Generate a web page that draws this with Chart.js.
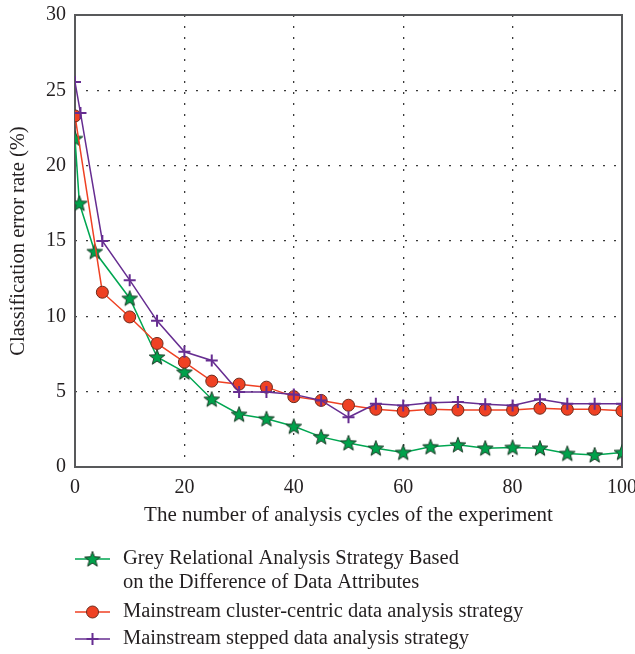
<!DOCTYPE html>
<html>
<head>
<meta charset="utf-8">
<script src="https://cdn.jsdelivr.net/npm/chart.js@4.4.1/dist/chart.umd.min.js"></script>
<style>
  html, body { margin: 0; padding: 0; background: #fff; }
  #wrap { width: 635px; height: 654px; }
</style>
</head>
<body>
<div id="wrap"><canvas id="chart" width="635" height="654"></canvas></div>
<script>
// series labels (legend)
const seriesNames = [
  ["Grey Relational Analysis Strategy Based", "on the Difference of Data Attributes"],
  ["Mainstream cluster-centric data analysis strategy"],
  ["Mainstream stepped data analysis strategy"]
];
// x positions (analysis cycles) for each series
const cyclesGrey = [0, 0.8, 3.6, 10, 15, 20, 25, 30, 35, 40, 45, 50, 55, 60, 65, 70, 75, 80, 85, 90, 95, 100];
const cyclesCluster = [0, 5, 10, 15, 20, 25, 30, 35, 40, 45, 50, 55, 60, 65, 70, 75, 80, 85, 90, 95, 100];
const cyclesStepped = [0, 1, 5, 10, 15, 20, 25, 30, 35, 40, 45, 50, 55, 60, 65, 70, 75, 80, 85, 90, 95, 100];
// classification error rate (%)
const greyRate = [21.8, 17.5, 14.3, 11.2, 7.3, 6.3, 4.5, 3.5, 3.2, 2.7, 2.0, 1.6, 1.25, 0.97, 1.34, 1.47, 1.25, 1.3, 1.25, 0.9, 0.8, 0.97];
const clusterRate = [23.3, 11.6, 9.96, 8.2, 6.96, 5.7, 5.5, 5.3, 4.67, 4.42, 4.1, 3.83, 3.7, 3.83, 3.78, 3.78, 3.78, 3.9, 3.83, 3.83, 3.73];
const steppedRate = [25.55, 23.5, 15.0, 12.4, 9.7, 7.65, 7.07, 4.98, 4.98, 4.82, 4.42, 3.3, 4.2, 4.09, 4.27, 4.32, 4.16, 4.09, 4.49, 4.2, 4.2, 4.2];
// tick labels
const xTicks = [0, 20, 40, 60, 80, 100];
const yTicks = [0, 5, 10, 15, 20, 25, 30];

const textColor = "#231f20";
const serif = "'Liberation Serif', 'DejaVu Serif', serif";

//filled star marker
function makeStar(size) {
  const c = document.createElement("canvas");
  c.width = size; c.height = size;
  const g = c.getContext("2d");
  const cx = size / 2, cy = size / 2 + 0.6;
  const outer = size / 2 - 0.8, inner = outer * 0.42;
  g.beginPath();
  for (let i = 0; i < 10; i++) {
    const r = i % 2 === 0 ? outer : inner;
    const a = -Math.PI / 2 + i * Math.PI / 5;
    const px = cx + r * Math.cos(a), py = cy + r * Math.sin(a);
    if (i === 0) g.moveTo(px, py); else g.lineTo(px, py);
  }
  g.closePath();
  g.fillStyle = "#00a14b";
  g.fill();
  g.lineWidth = 1;
  g.strokeStyle = "#1d3b28";
  g.stroke();
  return c;
}
const starImg = makeStar(18);

const toPoints = (xs, ys) => xs.map((x, i) => ({ x: x, y: ys[i] }));

const datasets = [
  {
    data: toPoints(cyclesGrey, greyRate),
    borderColor: "#00a651",
    borderWidth: 1.5,
    pointStyle: starImg,
    pointRadius: 8,
    order: 2,
  },
  {
    data: toPoints(cyclesCluster, clusterRate),
    borderColor: "#ef4123",
    borderWidth: 1.5,
    pointStyle: "circle",
    pointRadius: 6,
    pointBackgroundColor: "#ef4123",
    pointBorderColor: "#6b2a1c",
    pointBorderWidth: 1,
    order: 1,
  },
  {
    data: toPoints(cyclesStepped, steppedRate),
    borderColor: "#662d91",
    borderWidth: 1.5,
    pointStyle: "cross",
    pointRadius: 6,
    pointBorderColor: "#662d91",
    pointBorderWidth: 2,
    order: 0,
  },
];

//frame around the plot area
const framePlugin = {
  id: "frame",
  beforeDatasetsDraw(chart) {
    const { ctx, chartArea: a } = chart;
    ctx.save();
    ctx.strokeStyle = "#58595b";
    ctx.lineWidth = 2;
    ctx.strokeRect(a.left, a.top, a.right - a.left, a.bottom - a.top);
    ctx.restore();
  },
};

//legend below the axis title (line + marker + text)
const legendPlugin = {
  id: "customLegend",
  afterDraw(chart) {
    const { ctx } = chart;
    const lineX0 = 75, lineX1 = 110, textX = 123;
    const rowY = [559, 612, 639];
    const lineGap = 24;
    ctx.save();
    ctx.font = "20.5px " + serif;
    ctx.textBaseline = "middle";
    ctx.textAlign = "left";
    datasets.forEach((ds, i) => {
      const y = rowY[i];
      ctx.strokeStyle = ds.borderColor;
      ctx.lineWidth = 1.5;
      ctx.beginPath();
      ctx.moveTo(lineX0, y);
      ctx.lineTo(lineX1, y);
      ctx.stroke();
      ctx.fillStyle = ds.pointBackgroundColor || ds.borderColor;
      ctx.strokeStyle = ds.pointBorderColor || ds.borderColor;
      ctx.lineWidth = ds.pointBorderWidth || 1;
      Chart.helpers.drawPoint(ctx, {
        pointStyle: ds.pointStyle,
        radius: ds.pointRadius,
        rotation: 0,
        borderWidth: ds.pointBorderWidth || 1,
      }, (lineX0 + lineX1) / 2, y);
      ctx.fillStyle = textColor;
      seriesNames[i].forEach((t, k) => ctx.fillText(t, textX, y + k * lineGap));
    });
    ctx.restore();
  },
};

const dotted = [2, 9];

let myChart = new Chart(document.getElementById("chart"), {
  type: "line",
  data: { datasets: datasets },
  plugins: [framePlugin, legendPlugin],
  options: {
    responsive: false,
    animation: false,
    layout: { padding: { top: 15, right: 13, left: 0, bottom: 122 } },
    plugins: {
      legend: { display: false },
      tooltip: { enabled: false },
    },
    scales: {
      x: {
        type: "linear",
        min: 0,
        max: 100,
        afterBuildTicks: (s) => { s.ticks = xTicks.map(v => ({ value: v })); },
        afterFit: (s) => { s.height = 65; s.paddingLeft = 0; s.paddingRight = 0; },
        border: { display: false, dash: dotted },
        grid: {
          drawTicks: false,
          color: (c) => (c.tick.value === 0 || c.tick.value === 100) ? "rgba(0,0,0,0)" : "#3a3a3a",
          lineWidth: 1.3,
        },
        ticks: {
          color: textColor,
          font: { family: serif, size: 20 },
          padding: 9,
          maxRotation: 0,
        },
        title: {
          display: true,
          text: "The number of analysis cycles of the experiment",
          color: textColor,
          font: { family: serif, size: 21 },
          padding: { top: 4, bottom: 4 },
        },
      },
      y: {
        min: 0,
        max: 30,
        afterBuildTicks: (s) => { s.ticks = yTicks.map(v => ({ value: v })); },
        afterFit: (s) => { s.width = 75; s.paddingTop = 0; s.paddingBottom = 0; },
        border: { display: false, dash: dotted },
        grid: {
          drawTicks: false,
          color: (c) => (c.tick.value === 0 || c.tick.value === 30) ? "rgba(0,0,0,0)" : "#3a3a3a",
          lineWidth: 1.3,
        },
        ticks: {
          color: textColor,
          font: { family: serif, size: 20 },
          padding: 9,
        },
        title: {
          display: true,
          text: "Classification error rate (%)",
          color: textColor,
          font: { family: serif, size: 20.5 },
          padding: { top: 6, bottom: 0 },
        },
      },
    },
  },
});
</script>
</body>
</html>
